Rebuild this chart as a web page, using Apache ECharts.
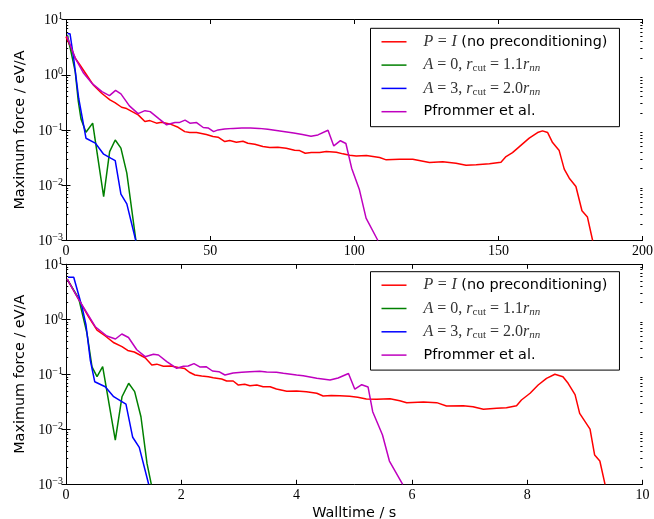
<!DOCTYPE html>
<html><head><meta charset="utf-8">
<script src="https://cdn.jsdelivr.net/npm/echarts@6/dist/echarts.min.js"></script>
<style>html,body{margin:0;padding:0;background:#fff}#c{width:654px;height:519px}</style>
</head><body><div id="c"></div><script>
// ---------------- data ----------------
const seriesNames = ['P = I (no preconditioning)', 'A = 0, r_cut = 1.1r_nn', 'A = 3, r_cut = 2.0r_nn', 'Pfrommer et al.'];
const seriesColors = ['#ff0000', '#008000', '#0000ff', '#bf00bf'];

const xTicksTop = [0, 50, 100, 150, 200];
const xTicksBottom = [0, 2, 4, 6, 8, 10];
const yMajorTicks = [0.001, 0.01, 0.1, 1, 10];
const yMinorTicks = [0.002,0.003,0.004,0.005,0.006,0.007,0.008,0.009,
  0.02,0.03,0.04,0.05,0.06,0.07,0.08,0.09,
  0.2,0.3,0.4,0.5,0.6,0.7,0.8,0.9,
  2,3,4,5,6,7,8,9];

// top panel (iterations)
const redTop = [[0,4.9],[3.2,2.0],[4.85,1.50],[7.17,0.99],[9.46,0.654],[12.37,0.462],[15.24,0.350],[16.97,0.313],[19.29,0.258],[21.03,0.244],[25.04,0.188],[27.36,0.142],[29.1,0.148],[31.4,0.133],[33.1,0.138],[36.0,0.129],[38.9,0.112],[41.2,0.0935],[42.95,0.0897],[45.3,0.0897],[48.7,0.0826],[51.0,0.076],[52.75,0.0741],[55.1,0.0617],[56.8,0.0643],[59.1,0.0601],[61.4,0.0627],[63.1,0.0576],[65.5,0.0553],[68.3,0.0501],[70.7,0.0481],[73.5,0.0489],[76.4,0.0469],[79.3,0.0431],[81.05,0.0424],[83.0,0.038],[85.1,0.039],[88.0,0.039],[90.3,0.0407],[93.8,0.0397],[96.05,0.037],[98.4,0.035],[100.7,0.034],[104.2,0.0345],[108.8,0.0317],[111.1,0.0288],[115.7,0.0296],[120.3,0.0296],[126.1,0.0257],[130.7,0.0265],[135.3,0.0251],[138.8,0.0231],[142.3,0.0234],[146.9,0.0244],[150.9,0.0262],[152.65,0.033],[154.9,0.039],[157.3,0.050],[160.7,0.0711],[163.6,0.0898],[165.3,0.0964],[167.1,0.0898],[168.8,0.0592],[171.1,0.0424],[172.85,0.0196],[174.6,0.0134],[176.9,0.0095],[179.0,0.00345],[180.9,0.00265],[182.7,0.001]];
const greenTop = [[0.5,5.2],[3.2,1.14],[4.27,0.33],[5.2,0.159],[6.93,0.091],[9.25,0.133],[13.06,0.00625],[15.14,0.0407],[17.08,0.066],[19.05,0.047],[21.1,0.0166],[24.25,0.001]];
const blueTop = [[0.5,5.5],[1.4,5.5],[2.66,1.99],[4.4,0.376],[6.93,0.071],[10.15,0.058],[13.06,0.0365],[15.5,0.031],[17.08,0.028],[19.05,0.0069],[21.1,0.0046],[24.2,0.001]];
const magentaTop = [[0.3,5.0],[3.2,2.0],[6.13,1.06],[9.0,0.70],[12.47,0.494],[15.07,0.419],[17.2,0.52],[19.05,0.45],[22.0,0.273],[25.0,0.198],[27.4,0.224],[29.2,0.215],[32.3,0.159],[34.9,0.124],[37.8,0.137],[39.25,0.136],[41.3,0.151],[43.0,0.133],[45.3,0.136],[47.6,0.111],[49.3,0.109],[51.2,0.0935],[52.75,0.1004],[55,0.104],[58,0.107],[61,0.109],[64,0.109],[67,0.107],[70,0.103],[73,0.098],[76,0.093],[79,0.088],[82,0.083],[85,0.077],[87.4,0.0815],[90.9,0.099],[92.9,0.0515],[95.2,0.064],[97.1,0.057],[99.1,0.0204],[101.8,0.00826],[104.1,0.00254],[108.2,0.001]];

// bottom panel (walltime)
const redBottom = [[0.02,5.4],[0.22,2.31],[0.394,1.10],[0.538,0.638],[0.681,0.497],[0.832,0.374],[0.971,0.318],[1.07,0.271],[1.184,0.254],[1.373,0.20],[1.488,0.148],[1.575,0.153],[1.69,0.140],[1.82,0.142],[1.95,0.133],[2.06,0.127],[2.14,0.109],[2.237,0.097],[2.353,0.093],[2.47,0.0904],[2.554,0.0867],[2.70,0.082],[2.787,0.0755],[2.90,0.0755],[2.99,0.0638],[3.10,0.0657],[3.19,0.062],[3.31,0.0638],[3.42,0.0595],[3.54,0.0595],[3.65,0.054],[3.83,0.049],[4.00,0.0497],[4.17,0.0483],[4.35,0.0453],[4.46,0.0403],[4.60,0.0412],[4.75,0.0409],[4.92,0.0398],[5.06,0.0382],[5.21,0.0356],[5.39,0.0351],[5.62,0.036],[5.79,0.0331],[5.91,0.0305],[6.20,0.0313],[6.43,0.0305],[6.60,0.0265],[6.89,0.0269],[7.06,0.0258],[7.24,0.0231],[7.47,0.0241],[7.64,0.0247],[7.815,0.0269],[7.90,0.0341],[8.05,0.0452],[8.19,0.0638],[8.335,0.0845],[8.48,0.10],[8.62,0.0904],[8.71,0.0686],[8.83,0.0426],[8.91,0.0195],[9.09,0.0101],[9.17,0.0034],[9.26,0.00265],[9.35,0.001]];
const greenBottom = [[0.02,5.4],[0.22,2.4],[0.364,0.556],[0.451,0.136],[0.538,0.0904],[0.636,0.1375],[0.855,0.00638],[0.971,0.039],[1.087,0.0686],[1.191,0.0483],[1.30,0.0169],[1.405,0.0024],[1.48,0.001]];
const blueBottom = [[0.035,5.8],[0.134,5.8],[0.277,1.69],[0.347,0.787],[0.421,0.182],[0.498,0.0733],[0.681,0.0595],[0.827,0.0392],[1.04,0.0288],[1.157,0.00716],[1.271,0.0047],[1.434,0.001]];
const magentaBottom = [[0.02,5.4],[0.22,2.3],[0.508,0.733],[0.708,0.497],[0.858,0.438],[0.968,0.54],[1.084,0.467],[1.228,0.28],[1.373,0.209],[1.517,0.232],[1.604,0.224],[1.748,0.1695],[1.921,0.1285],[2.037,0.1396],[2.12,0.1415],[2.22,0.156],[2.32,0.136],[2.43,0.1375],[2.54,0.1148],[2.653,0.1115],[2.757,0.097],[2.90,0.1057],[3.05,0.109],[3.19,0.1115],[3.36,0.1135],[3.48,0.110],[3.65,0.1087],[3.77,0.104],[4.0,0.097],[4.115,0.094],[4.35,0.0846],[4.58,0.0788],[4.72,0.0857],[4.90,0.1035],[5.01,0.0536],[5.13,0.0647],[5.24,0.0587],[5.32,0.0209],[5.43,0.0111],[5.49,0.00787],[5.61,0.00265],[5.84,0.001]];

// ---------------- chart ----------------
const SERIF = 'Liberation Serif';
const SANS = 'DejaVu Sans';

function yLabel(v) {
  const e = Math.round(Math.log10(v));
  return '{b|10}{s|' + (e < 0 ? '\u2212' + (-e) : String(e)) + '}';
}
const yRich = {
  b: { fontFamily: SERIF, fontSize: 14, lineHeight: 16, verticalAlign: 'bottom', color: '#000' },
  s: { fontFamily: SERIF, fontSize: 10, lineHeight: 10, verticalAlign: 'top', color: '#000' }
};
const legendRich = {
  m: { fontFamily: SERIF, fontStyle: 'italic', fontSize: 16, color: '#333' },
  e: { fontFamily: SERIF, fontSize: 16, color: '#333' },
  sub: { fontFamily: SERIF, fontSize: 11, lineHeight: 11, verticalAlign: 'bottom', color: '#333' },
  subi: { fontFamily: SERIF, fontStyle: 'italic', fontSize: 11, lineHeight: 11, verticalAlign: 'bottom', color: '#333' }
};
function legendFmt(name) {
  if (name === seriesNames[0]) return '{m|P} {e|=} {m|I} (no preconditioning)';
  if (name === seriesNames[1]) return '{m|A}{e| = 0, }{m|r}{sub|cut}{e| = 1.1}{m|r}{subi|nn}';
  if (name === seriesNames[2]) return '{m|A}{e| = 3, }{m|r}{sub|cut}{e| = 2.0}{m|r}{subi|nn}';
  return name;
}

const grids = [
  { left: 66, top: 19.5, width: 576.5, height: 221, outerBoundsMode: 'none', containLabel: false },
  { left: 66, top: 264.3, width: 576.5, height: 220, outerBoundsMode: 'none', containLabel: false }
];
const xRanges = [xTicksTop, xTicksBottom];

const xAxes = [], yAxes = [];
grids.forEach((g, gi) => {
  const t = xRanges[gi];
  const xmin = t[0], xmax = t[t.length - 1], xint = t[1] - t[0];
  const base = {
    type: 'value', gridIndex: gi, min: xmin, max: xmax, interval: xint,
    axisLine: { show: true, onZero: false, lineStyle: { color: '#000', width: 1 } },
    axisTick: { show: true, inside: true, length: 4.5, lineStyle: { color: '#000' } },
    splitLine: { show: false }
  };
  xAxes.push(Object.assign({}, base, {
    position: 'bottom',
    axisLabel: { show: true, margin: 4, fontFamily: SERIF, fontSize: 14, color: '#000' },
    name: gi === 1 ? 'Walltime / s' : '',
    nameLocation: 'middle', nameGap: 22,
    nameTextStyle: { fontFamily: SANS, fontSize: 14.4, color: '#000' }
  }));
  xAxes.push(Object.assign({}, base, { position: 'top', axisLabel: { show: false } }));

  const ybase = {
    type: 'log', logBase: 10, gridIndex: gi, min: yMajorTicks[0], max: yMajorTicks[yMajorTicks.length - 1],
    splitNumber: 4, splitLine: { show: false }
  };
  yAxes.push(Object.assign({}, ybase, {
    position: 'left',
    axisLine: { show: true, lineStyle: { color: '#000', width: 1 } },
    axisTick: { show: true, inside: true, length: 4.5, lineStyle: { color: '#000' } },
    axisLabel: { show: true, margin: 3, formatter: yLabel, rich: yRich },
    name: 'Maximum force / eV/A', nameLocation: 'middle', nameGap: 37,
    nameTextStyle: { fontFamily: SANS, fontSize: 14.4, color: '#000' }
  }));
  yAxes.push(Object.assign({}, ybase, {
    position: 'right',
    axisLine: { show: true, lineStyle: { color: '#000', width: 1 } },
    axisTick: { show: true, inside: true, length: 4.5, lineStyle: { color: '#000' } },
    axisLabel: { show: false }
  }));
  ['left', 'right'].forEach(pos => {
    yAxes.push(Object.assign({}, ybase, {
      position: pos,
      axisLine: { show: false },
      axisTick: { show: true, inside: true, length: 2.2, customValues: yMinorTicks, lineStyle: { color: '#000' } },
      axisLabel: { show: false }
    }));
  });
});

const panelData = [[redTop, greenTop, blueTop, magentaTop], [redBottom, greenBottom, blueBottom, magentaBottom]];
const series = [];
panelData.forEach((arrs, gi) => {
  arrs.forEach((d, si) => {
    series.push({
      type: 'line', name: seriesNames[si], xAxisIndex: gi * 2, yAxisIndex: gi * 4,
      data: d, symbol: 'none', showSymbol: false, clip: true,
      lineStyle: { color: seriesColors[si], width: 1.5 },
      itemStyle: { color: seriesColors[si] },
      z: 2 + si
    });
  });
});

const legendTops = [28.3, 271.7];
const legends = legendTops.map(tp => ({
  show: true, left: 370.5, top: tp, orient: 'vertical', data: seriesNames,
  icon: 'rect', itemWidth: 25, itemHeight: 1.5, itemGap: 5.3,
  padding: [4.5, 12, 6, 11],
  borderColor: '#000', borderWidth: 1, borderRadius: 0, backgroundColor: '#fff',
  selectedMode: false, formatter: legendFmt,
  textStyle: { fontFamily: SANS, fontSize: 14.4, color: '#000', lineHeight: 18, padding: [0, 0, 0, 12], rich: legendRich }
}));

const chart = echarts.init(document.getElementById('c'), null, { renderer: 'canvas' });
chart.setOption({
  animation: false,
  backgroundColor: '#fff',
  grid: grids,
  xAxis: xAxes,
  yAxis: yAxes,
  legend: legends,
  series: series
});
</script></body></html>
